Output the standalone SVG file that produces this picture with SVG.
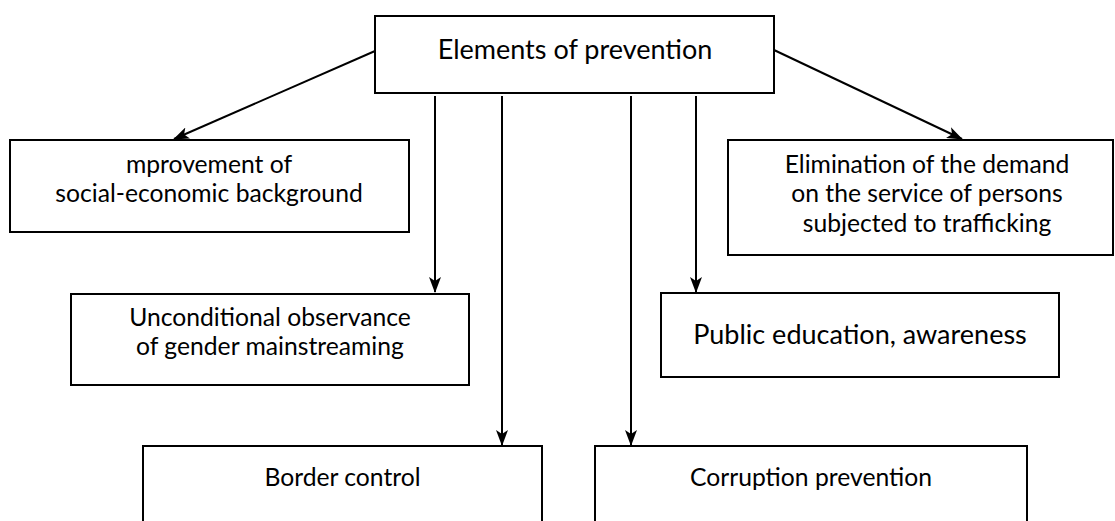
<svg xmlns="http://www.w3.org/2000/svg" width="1115" height="521" viewBox="0 0 1115 521">
  <style>
    .box { fill: #ffffff; stroke: #000000; stroke-width: 2; }
    .lbl { font-family: Lato, "Liberation Sans", sans-serif; font-size: 24.7px; fill: #000000; text-anchor: middle; }
    .big { font-size: 27px; }
    .edge { fill: none; stroke: #000000; stroke-width: 2; }
  </style>
  <defs>
    <marker id="arrow" viewBox="0 0 16 12" refX="15" refY="6" markerWidth="16" markerHeight="12" markerUnits="userSpaceOnUse" orient="auto">
      <path d="M0,0 L16,6 L0,12 L4,6 z" fill="#000000"/>
    </marker>
  </defs>
  <rect width="1115" height="521" fill="#ffffff"/>

  <g id="connectors">
    <line class="edge" x1="375" y1="51" x2="174" y2="139" marker-end="url(#arrow)"/>
    <line class="edge" x1="774" y1="50" x2="962" y2="139" marker-end="url(#arrow)"/>
    <line class="edge" x1="435" y1="96" x2="435" y2="292" marker-end="url(#arrow)"/>
    <line class="edge" x1="502" y1="96" x2="502" y2="445" marker-end="url(#arrow)"/>
    <line class="edge" x1="631" y1="96" x2="631" y2="445" marker-end="url(#arrow)"/>
    <line class="edge" x1="696" y1="96" x2="696" y2="292" marker-end="url(#arrow)"/>
  </g>

  <g id="elements-of-prevention">
    <rect class="box" x="375" y="16" width="399" height="77"/>
    <text class="lbl big" x="575" y="59">Elements of prevention</text>
  </g>

  <g id="socio-economic">
    <rect class="box" x="10" y="140" width="399" height="92"/>
    <text class="lbl" x="209" y="173">mprovement of</text>
    <text class="lbl" x="209" y="202">social-economic background</text>
  </g>

  <g id="demand-elimination">
    <rect class="box" x="728" y="140" width="385" height="115"/>
    <text class="lbl" x="927" y="173">Elimination of the demand</text>
    <text class="lbl" x="927" y="202">on the service of persons</text>
    <text class="lbl" x="927" y="232">subjected to trafficking</text>
  </g>

  <g id="gender-mainstreaming">
    <rect class="box" x="71" y="294" width="398" height="91"/>
    <text class="lbl" x="270" y="326">Unconditional observance</text>
    <text class="lbl" x="270" y="355">of gender mainstreaming</text>
  </g>

  <g id="public-education">
    <rect class="box" x="661" y="293" width="398" height="84"/>
    <text class="lbl big" x="860" y="344">Public education, awareness</text>
  </g>

  <g id="border-control">
    <rect class="box" x="143" y="446" width="399" height="100"/>
    <text class="lbl" x="342.5" y="486">Border control</text>
  </g>

  <g id="corruption-prevention">
    <rect class="box" x="595" y="446" width="432" height="100"/>
    <text class="lbl" x="811" y="486">Corruption prevention</text>
  </g>
</svg>
